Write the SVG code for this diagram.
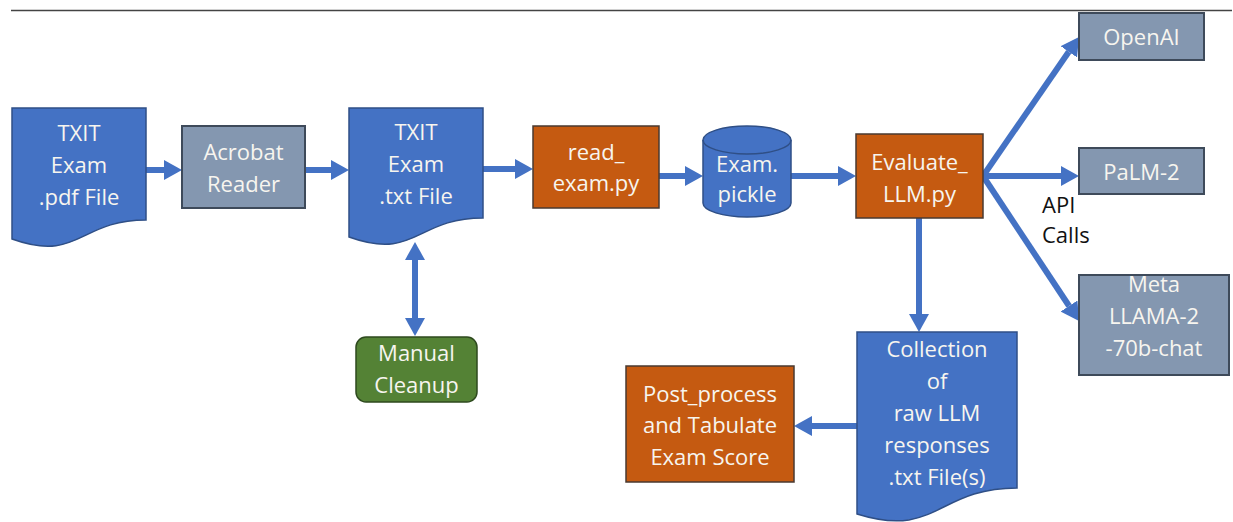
<svg xmlns="http://www.w3.org/2000/svg" width="1233" height="522" viewBox="0 0 1233 522">
<defs>
<style>
.t{font-family:"Open Sans","Liberation Sans",sans-serif;font-size:22px;fill:#F7F5EF;text-anchor:middle}
.lab{font-family:"Open Sans","Liberation Sans",sans-serif;font-size:22px;fill:#111}
.doc{fill:#4472C4;stroke:#2F4F86;stroke-width:1.5}
.gry{fill:#8497B0;stroke:#3E4A5A;stroke-width:2}
.org{fill:#C55A11;stroke:#4A3A30;stroke-width:1.5}
.grn{fill:#548235;stroke:#2E4A1E;stroke-width:1.5}
.cn{stroke:#4472C4;stroke-width:6;fill:none}
</style>
<marker id="ah" markerUnits="userSpaceOnUse" markerWidth="18" markerHeight="20" refX="0" refY="10" orient="auto-start-reverse" viewBox="0 0 18 20">
<path d="M0,0 L18,10 L0,20 Z" fill="#4472C4"/>
</marker>
</defs>
<rect width="1233" height="522" fill="#fff"/>
<line x1="11" y1="10.5" x2="1232" y2="10.5" stroke="#444" stroke-width="1.5"/>

<g id="connectors">
<line class="cn" x1="146" y1="170" x2="164" y2="170" marker-end="url(#ah)"/>
<line class="cn" x1="305" y1="170" x2="331" y2="170" marker-end="url(#ah)"/>
<line class="cn" x1="483" y1="169" x2="515" y2="169" marker-end="url(#ah)"/>
<line class="cn" x1="659" y1="176" x2="685" y2="176" marker-end="url(#ah)"/>
<line class="cn" x1="791" y1="176" x2="838" y2="176" marker-end="url(#ah)"/>
<line class="cn" x1="983" y1="176" x2="1061" y2="176" marker-end="url(#ah)"/>
<line class="cn" x1="983" y1="176" x2="1068.8" y2="51.8" marker-end="url(#ah)"/>
<line class="cn" x1="983" y1="176" x2="1069.1" y2="306" marker-end="url(#ah)"/>
<line class="cn" x1="919" y1="218" x2="919" y2="314" marker-end="url(#ah)"/>
<line class="cn" x1="857" y1="426" x2="812" y2="426" marker-end="url(#ah)"/>
<line class="cn" x1="415" y1="260" x2="415" y2="318" marker-start="url(#ah)" marker-end="url(#ah)"/>
</g>

<g id="pdf-file">
<path class="doc" d="M12,108 H146 V220 C79,220 79,263 12,239 Z"/>
<text class="t" x="79" y="141">TXIT</text>
<text class="t" x="79" y="173">Exam</text>
<text class="t" x="79" y="205">.pdf File</text>
</g>

<g id="acrobat">
<rect class="gry" x="182" y="126" width="123" height="82"/>
<text class="t" x="243.5" y="160">Acrobat</text>
<text class="t" x="243.5" y="192">Reader</text>
</g>

<g id="txt-file">
<path class="doc" d="M349,108 H483 V218 C416,218 416,261 349,237 Z"/>
<text class="t" x="416" y="140">TXIT</text>
<text class="t" x="416" y="172">Exam</text>
<text class="t" x="416" y="204">.txt File</text>
</g>

<g id="manual-cleanup">
<rect class="grn" x="356" y="337" width="121" height="65" rx="10"/>
<text class="t" x="416.5" y="361">Manual</text>
<text class="t" x="416.5" y="393">Cleanup</text>
</g>

<g id="read-exam">
<rect class="org" x="533" y="126" width="126" height="82"/>
<text class="t" x="596" y="160">read_</text>
<text class="t" x="596" y="191">exam.py</text>
</g>

<g id="exam-pickle">
<path class="doc" d="M703,140 V203 A44,14 0 0 0 791,203 V140 A44,14 0 0 0 703,140 Z"/>
<path d="M703,140 A44,14 0 0 0 791,140" fill="none" stroke="#2F4F86" stroke-width="1.5"/>
<text class="t" x="747" y="172">Exam.</text>
<text class="t" x="747" y="202">pickle</text>
</g>

<g id="evaluate-llm">
<rect class="org" x="856" y="134" width="127" height="84"/>
<text class="t" x="919.5" y="170">Evaluate_</text>
<text class="t" x="919.5" y="202">LLM.py</text>
</g>

<g id="openai">
<rect class="gry" x="1079" y="13" width="125" height="47"/>
<text class="t" x="1141.5" y="45">OpenAI</text>
</g>

<g id="palm2">
<rect class="gry" x="1079" y="148" width="125" height="46"/>
<text class="t" x="1141.5" y="180">PaLM-2</text>
</g>

<g id="api-calls">
<text class="lab" x="1042" y="213">API</text>
<text class="lab" x="1042" y="243">Calls</text>
</g>

<g id="meta-llama">
<rect class="gry" x="1079" y="275" width="150" height="100"/>
<text class="t" x="1154" y="292">Meta</text>
<text class="t" x="1154" y="324">LLAMA-2</text>
<text class="t" x="1154" y="356">-70b-chat</text>
</g>

<g id="collection">
<path class="doc" d="M857,332 H1017 V488 C937,488 937,539 857,514 Z"/>
<text class="t" x="937" y="357">Collection</text>
<text class="t" x="937" y="389">of</text>
<text class="t" x="937" y="421">raw LLM</text>
<text class="t" x="937" y="453">responses</text>
<text class="t" x="937" y="485">.txt File(s)</text>
</g>

<g id="post-process">
<rect class="org" x="626" y="366" width="168" height="116"/>
<text class="t" x="710" y="402">Post_process</text>
<text class="t" x="710" y="433">and Tabulate</text>
<text class="t" x="710" y="465">Exam Score</text>
</g>
</svg>
